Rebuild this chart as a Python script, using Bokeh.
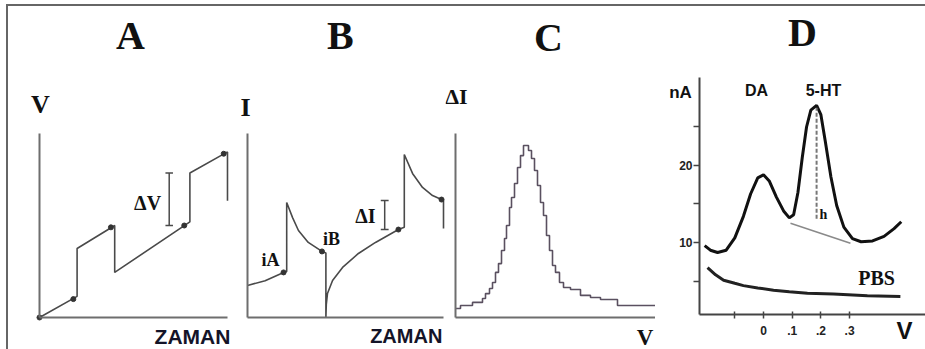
from bokeh.plotting import figure
from bokeh.layouts import row, column
from bokeh.models import Range1d, FixedTicker, Label, CustomJSTickFormatter, Spacer
from bokeh.embed import file_html
from bokeh.resources import INLINE

# ---------------- data ----------------
# Panel A: staircase + pulse potential vs time
A_t = [0, 2, 2, 4, 4, 8, 8, 10, 10]
A_v = [0, 1.15, 3.75, 5.0, 2.45, 5.2, 7.85, 9.0, 6.35]
A_dot_t = [0, 1.8, 3.8, 7.7, 9.8]
A_dot_v = [0, 1.0, 4.9, 5.0, 8.9]
A_dv_t = 6.9
A_dv_lo, A_dv_hi = 5.0, 7.85

# Panel B: current vs time
B_t = [0, 0.9, 1.84, 2.0, 2.0, 2.3, 2.6, 3.1, 3.8, 4.0, 4.0, 4.02, 4.08, 4.34, 4.85, 5.66, 6.53, 7.7, 8.0, 8.0, 8.42, 8.93, 9.44, 9.9, 10.0, 10.0]
B_i = [1.74, 2.0, 2.45, 2.5, 6.25, 5.43, 4.73, 4.08, 3.59, 3.5, 0, 0.7, 1.3, 2.01, 2.72, 3.48, 4.08, 4.78, 4.9, 8.86, 7.83, 7.07, 6.63, 6.41, 6.35, 4.84]
B_dot_t = [1.84, 3.8, 7.7, 9.9]
B_dot_i = [2.45, 3.59, 4.78, 6.41]
B_di_t = 7.0
B_di_lo, B_di_hi = 4.78, 6.36

# Panel C: differential current (staircase peak)
C_v = [0, 2.5, 8.5, 13.5, 15, 17, 18.5, 20, 21.5, 23, 24.5, 25.5, 27, 28, 29.5, 31, 32.5, 34,
       36.5, 38, 39.5, 41, 42.5, 44, 45.5, 47, 48.5, 50, 52, 54, 57.5, 62.5, 67.5, 72.5, 81, 100]
C_di = [4.9, 6.5, 8.2, 10.3, 13.0, 15.8, 19.0, 24.5, 29.3, 36.4, 42.9, 50.0, 59.8, 65.2, 72.8, 81.5, 88.0, 93.5,
        90.8, 86.4, 79.9, 71.7, 62.5, 55.4, 44.6, 36.4, 28.3, 24.5, 19.0, 16.3, 15.2, 12.0, 10.9, 9.8, 6.5, 6.5]

# Panel D: DPV voltammogram (nA vs V)
D_v = [-0.205, -0.185, -0.16, -0.13, -0.10, -0.07, -0.045, -0.02, 0.0, 0.02, 0.045, 0.07, 0.09, 0.105,
       0.12, 0.135, 0.15, 0.165, 0.185, 0.20, 0.215, 0.235, 0.255, 0.28, 0.31, 0.34, 0.38, 0.42, 0.455, 0.48]
D_na = [9.6, 9.0, 8.7, 9.0, 10.6, 13.4, 16.3, 18.4, 18.8, 18.0, 15.9, 14.1, 13.2, 13.6,
        16.5, 21.0, 25.0, 27.2, 27.8, 26.6, 23.2, 18.5, 14.8, 12.0, 10.5, 10.1, 10.2, 10.8, 11.8, 12.7]
PBS_v = [-0.195, -0.167, -0.139, -0.10, -0.07, -0.02, 0.035, 0.09, 0.153, 0.244, 0.362, 0.477]
PBS_na = [6.75, 5.8, 5.1, 4.7, 4.4, 4.1, 3.8, 3.6, 3.4, 3.3, 3.1, 3.0]
D_base_v = [0.094, 0.303]
D_base_na = [12.5, 9.9]
D_h_v = 0.185
D_h_lo, D_h_hi = 13.1, 27.5
D_xticks = [-0.1, 0, 0.1, 0.2, 0.3]
D_yticks = [5, 10, 15, 20, 25]
D_x_axis_at, D_y_axis_at = 0.649, -0.223
D_x_end, D_y_end = 0.5645, 31.43

# ---------------- styling ----------------
SERIF = "Liberation Serif"
SANS = "Liberation Sans"
AXIS_C = "#6e6e6e"
LINE_C = "#4a4a4a"
TXT_C = "#111111"
FRAME_C = "#666666"
H = 343


def base_fig(w, xr, yr):
    p = figure(width=w, height=H, x_range=Range1d(*xr), y_range=Range1d(*yr),
               output_backend="svg", toolbar_location=None,
               min_border_left=0, min_border_right=0,
               min_border_top=0, min_border_bottom=0)
    p.title.visible = False
    p.grid.visible = False
    p.outline_line_color = None
    p.background_fill_color = "white"
    p.border_fill_color = "white"
    return p


def bare_axes(p, xb, yb):
    xa, ya = p.xaxis[0], p.yaxis[0]
    xa.fixed_location = yb[0]
    ya.fixed_location = xb[0]
    xa.bounds = xb
    ya.bounds = yb
    for ax in (xa, ya):
        ax.ticker = FixedTicker(ticks=[])
        ax.major_tick_line_color = None
        ax.minor_tick_line_color = None
        ax.major_label_text_font_size = "0px"
        ax.axis_line_color = AXIS_C
        ax.axis_line_width = 2


def lab(p, x, y, text, size, font=SERIF, align="center", baseline="middle", color=TXT_C):
    p.add_layout(Label(x=x, y=y, text=text, text_font=font, text_font_style="bold",
                       text_font_size=f"{size}px", text_align=align,
                       text_baseline=baseline, text_color=color))


def ibar(p, x, lo, hi, half):
    p.segment(x0=[x, x - half, x - half], y0=[lo, lo, hi], x1=[x, x + half, x + half], y1=[hi, lo, hi],
              line_color=LINE_C, line_width=1.5)


# ---------------- Panel A ----------------
pa = base_fig(227, (-1.649, 10.426), (-1.739, 16.902))
bare_axes(pa, (0, 10), (0, 10))
pa.line(A_t, A_v, line_color=LINE_C, line_width=1.6)
pa.scatter(A_dot_t, A_dot_v, size=5, color="#333333")
ibar(pa, A_dv_t, A_dv_lo, A_dv_hi, 0.2)
lab(pa, 4.84, 15.3, "A", 40)
lab(pa, 0.05, 11.55, "V", 26)
lab(pa, 5.75, 6.2, "ΔV", 20)
lab(pa, 8.14, -1.03, "ZAMAN", 21, font=SANS, color="#141428")

# ---------------- Panel B ----------------
pb = base_fig(210, (-0.612, 10.102), (-1.739, 16.902))
bare_axes(pb, (0, 10), (0, 10))
pb.line(B_t, B_i, line_color=LINE_C, line_width=1.6)
pb.scatter(B_dot_t, B_dot_i, size=5, color="#333333")
ibar(pb, B_di_t, B_di_lo, B_di_hi, 0.2)
lab(pb, 4.74, 15.3, "B", 40)
lab(pb, -0.1, 11.4, "I", 26)
lab(pb, 1.17, 3.1, "iA", 18)
lab(pb, 4.29, 4.29, "iB", 18)
lab(pb, 6.02, 5.54, "ΔI", 20)
lab(pb, 8.1, -1.03, "ZAMAN", 20, font=SANS, color="#141428")

# ---------------- Panel C ----------------
pc = base_fig(210, (-5, 100), (-17.39, 169.02))
bare_axes(pc, (0, 100), (0, 100))
pc.step(C_v, C_di, mode="after", line_color="#5a5060", line_width=1.6)
lab(pc, 46.5, 152.0, "C", 40)
lab(pc, 0.5, 120.0, "ΔI", 22)
lab(pc, 94.8, -10.9, "V", 23)

# ---------------- Panel D ----------------
pd = base_fig(270, (-0.3763, 0.5645), (-3.896, 40.649))
xa, ya = pd.xaxis[0], pd.yaxis[0]
xa.fixed_location = D_x_axis_at
ya.fixed_location = D_y_axis_at
xa.bounds = (D_y_axis_at, D_x_end)
ya.bounds = (D_x_axis_at, D_y_end)
for ax in (xa, ya):
    ax.axis_line_color = "#444444"
    ax.axis_line_width = 2
    ax.major_tick_line_color = "#444444"
    ax.major_tick_line_width = 1.5
    ax.minor_tick_line_color = None
    ax.major_label_text_font = SANS
    ax.major_label_text_font_style = "bold"
    ax.major_label_text_font_size = "12px"
    ax.major_label_text_color = "#222222"
xa.ticker = FixedTicker(ticks=D_xticks)
xa.formatter = CustomJSTickFormatter(code="""
    if (Math.abs(tick) < 1e-9) return '0';
    if (tick < 0) return '';
    return '.' + Math.round(tick * 10);
""")
xa.major_tick_in = 3
xa.major_tick_out = 4
xa.major_label_standoff = 7
ya.ticker = FixedTicker(ticks=D_yticks)
ya.formatter = CustomJSTickFormatter(code="return (tick % 10 == 0) ? String(tick) : '';")
ya.major_tick_in = 0
ya.major_tick_out = 6
ya.major_label_standoff = 1

pd.line(D_base_v, D_base_na, line_color="#8a8a8a", line_width=1.5)
pd.line(D_v, D_na, line_color="#111111", line_width=3)
pd.line(PBS_v, PBS_na, line_color="#222222", line_width=3)
pd.segment(x0=[D_h_v], y0=[D_h_lo], x1=[D_h_v], y1=[D_h_hi], line_color="#777777",
           line_width=2, line_dash="4 2")
lab(pd, 0.136, 37.3, "D", 40)
lab(pd, -0.289, 29.5, "nA", 17, font=SANS)
lab(pd, -0.024, 29.7, "DA", 16, font=SANS)
lab(pd, 0.209, 29.7, "5-HT", 16, font=SANS)
lab(pd, 0.394, 5.45, "PBS", 20)
lab(pd, 0.209, 13.6, "h", 14)
lab(pd, 0.491, -1.43, "V", 24, font=SANS)

# ---------------- frame lines & layout ----------------
top_gap = Spacer(width=925, height=4)
left_gap = Spacer(width=6, height=345)
top_bar = Spacer(width=919, height=2, styles={"background-color": FRAME_C})
left_bar = Spacer(width=2, height=H, styles={"background-color": FRAME_C})
inner = column(top_bar, row(left_bar, pa, pb, pc, pd))
layout = column(top_gap, row(left_gap, inner))

open("out.html", "w").write(file_html(layout, INLINE))
